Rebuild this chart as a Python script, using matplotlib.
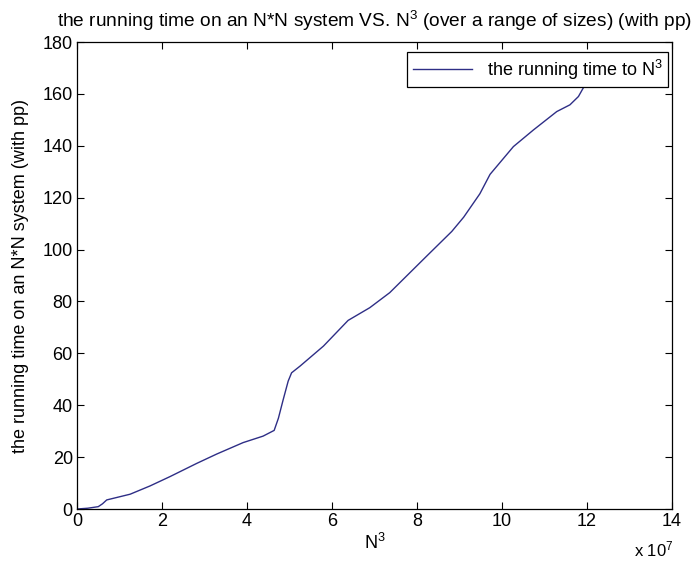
import numpy as np
import matplotlib
matplotlib.use('Agg')
import matplotlib.pyplot as plt
from matplotlib.ticker import MultipleLocator

plt.rcParams['font.family'] = ['Liberation Sans', 'DejaVu Sans']
plt.rcParams['mathtext.fontset'] = 'custom'
plt.rcParams['mathtext.rm'] = 'Liberation Sans'
plt.rcParams['mathtext.it'] = 'Liberation Sans'
fs = 13

# problem size N^3 and measured running time (with pp)
n_cubed = np.array([0.00, 0.25, 0.50, 0.60, 0.70, 1.25, 1.72, 2.19, 2.82, 3.29,
                    3.91, 4.38, 4.64, 4.74, 4.85, 4.97, 5.05, 5.25, 5.80, 6.38,
                    6.89, 7.36, 8.23, 8.82, 9.10, 9.48, 9.72, 10.27, 10.74, 11.29,
                    11.60, 11.80, 11.91, 12.10, 12.25]) * 1e7
run_time = np.array([0.0, 0.3, 0.9, 2.0, 3.5, 5.7, 8.9, 12.5, 17.6, 21.2,
                     25.6, 28.1, 30.3, 35.0, 42.0, 49.3, 52.5, 55.1, 62.8, 72.7,
                     77.6, 83.4, 97.5, 107.0, 112.5, 121.5, 129.0, 139.7, 146.1, 153.2,
                     155.8, 159.0, 162.2, 167.0, 172.0])

fig = plt.figure(figsize=(6.91, 5.65), dpi=100)
ax = fig.add_axes([0.1114, 0.0991, 0.861, 0.8265])

ax.plot(n_cubed / 1e7, run_time, color='#2e2e86', linewidth=1.0,
        label='the running time to N$^3$')

ax.set_xlim(0, 14)
ax.set_ylim(0, 180)
ax.xaxis.set_major_locator(MultipleLocator(2))
ax.yaxis.set_major_locator(MultipleLocator(20))
ax.tick_params(direction='in', top=True, right=True, length=5, width=0.8,
               labelsize=fs, pad=3)
for s in ax.spines.values():
    s.set_linewidth(0.9)

ax.set_title('the running time on an N*N system VS. N$^3$ (over a range of sizes) (with pp)',
             fontsize=13.8, pad=11)
ax.set_xlabel('N$^3$', fontsize=fs, labelpad=2)
ax.set_ylabel('the running time on an N*N system (with pp)', fontsize=fs, labelpad=10)
fig.text(0.975, 0.028, 'x 10$^7$', ha='right', va='center', fontsize=fs - 1)

leg = ax.legend(loc='upper right', bbox_to_anchor=(0.9933, 0.9786), borderaxespad=0,
                fancybox=False, framealpha=1, edgecolor='black',
                fontsize=fs, handlelength=3.3, borderpad=0.3)
leg.get_frame().set_linewidth(0.9)
leg.set_zorder(5)

fig.savefig('out.png', dpi=100)
